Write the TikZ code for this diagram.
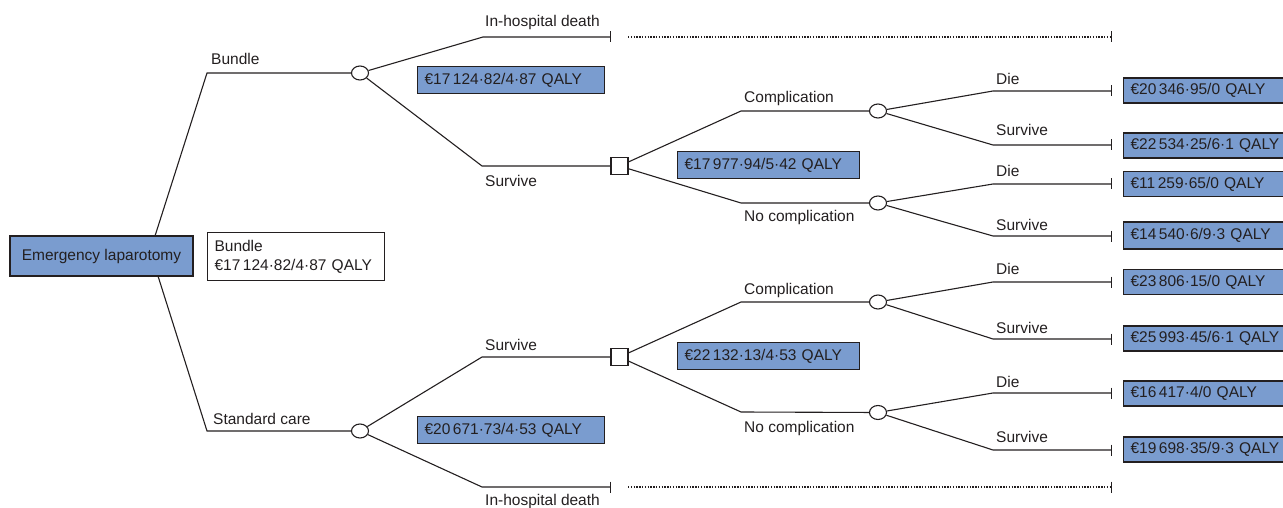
\documentclass[tikz,border=0pt]{standalone}
\usepackage{fontspec}
\setmainfont{Liberation Sans}
\usetikzlibrary{shapes.geometric,arrows.meta}
\definecolor{boxblue}{RGB}{122,156,207}
\definecolor{ink}{RGB}{35,31,32}
\begin{document}
\begin{tikzpicture}[x=1pt,y=-1pt,
  every node/.style={font=\fontsize{15.5}{19}\selectfont, text=ink},
  edge/.style={draw=ink, line width=1.1pt},
  endbar/.style={edge, -{Bar[width=11pt,line width=1.1pt]}},
  dotline/.style={draw=ink, line width=1.2pt, dash pattern=on 1.4pt off 1.4pt, -{Bar[width=11pt,line width=1.1pt]}},
  chance/.style={ellipse, draw=ink, fill=white, line width=1.1pt, minimum width=17, minimum height=14, inner sep=0},
  decision/.style={rectangle, draw=ink, fill=white, line width=1.1pt, minimum size=17, inner sep=0},
  valbox/.style={rectangle, draw=ink, fill=boxblue, line width=1.1pt, inner xsep=7, inner ysep=0, align=left},
  infobox/.style={rectangle, draw=ink, fill=white, line width=1.1pt, inner xsep=7, inner ysep=0, align=left},
  lbl/.style={anchor=base west, inner sep=0},
]
\useasboundingbox (0,0) rectangle (1283,508);

% root
\node[rectangle, draw=ink, fill=boxblue, line width=1.1pt, minimum width=183, minimum height=40, inner sep=0] (root) at (101.5,256) {Emergency laparotomy};
\node[infobox, anchor=north west, text width=163, minimum height=48] (info) at (207,232) {Bundle\\€17\,124·82/4·87 QALY};

\coordinate (r1) at (155,236);
\coordinate (r2) at (158,276);
\coordinate (kB) at (207,73);
\coordinate (kS) at (207,431);
\node[chance] (cB) at (360,73) {};
\node[chance] (cS) at (360,431) {};
\draw[edge] (r1) -- (kB) -- (cB);
\draw[edge] (r2) -- (kS) -- (cS);
\node[lbl] (lB) at (211,65) {Bundle};
\node[lbl] (lS) at (213,424) {Standard care};

% ---------- bundle arm ----------
\coordinate (kD1) at (483,37);
\coordinate (tD1) at (611,37);
\draw[endbar] (cB) -- (kD1) -- (tD1);
\node[lbl] (lD1) at (485,27) {In-hospital death};
\coordinate (d1s) at (628,37);
\coordinate (d1e) at (1112,37);
\draw[dotline] (d1s) -- (d1e);
\node[valbox, anchor=north west, text width=173, minimum height=27] (v1) at (417,66) {€17\,124·82/4·87 QALY};

\coordinate (kSv1) at (482,166);
\node[decision] (sq1) at (619.5,166) {};
\draw[edge] (cB) -- (kSv1) -- (sq1);
\node[lbl] (lSv1) at (485,186) {Survive};

\coordinate (kC1) at (741,111);
\node[chance] (cC1) at (878,111) {};
\draw[edge] (sq1) -- (kC1) -- (cC1);
\node[lbl] (lC1) at (744,103) {Complication};
\coordinate (kN1) at (741,203);
\node[chance] (cN1) at (878,203) {};
\draw[edge] (sq1) -- (kN1) -- (cN1);
\node[lbl] (lN1) at (744,221) {No complication};
\node[valbox, anchor=north west, text width=168, minimum height=27] (v2) at (677,151) {€17\,977·94/5·42 QALY};

% outcomes bundle / complication
\coordinate (ka) at (993,91);  \coordinate (ta) at (1112,91);
\coordinate (kb) at (993,145); \coordinate (tb) at (1112,145);
\draw[endbar] (cC1) -- (ka) -- (ta);
\draw[endbar] (cC1) -- (kb) -- (tb);
\node[lbl] (la) at (996,85) {Die};
\node[lbl] (lb) at (996,136) {Survive};
\coordinate (kc) at (993,184); \coordinate (tc) at (1112,184);
\coordinate (kd) at (993,236); \coordinate (td) at (1112,236);
\draw[endbar] (cN1) -- (kc) -- (tc);
\draw[endbar] (cN1) -- (kd) -- (td);
\node[lbl] (lc) at (996,177) {Die};
\node[lbl] (ld) at (996,230) {Survive};

\node[valbox, anchor=west, text width=160, minimum height=25] (Ta) at (1123,90.5) {€20\,346·95/0 QALY};
\node[valbox, anchor=west, text width=160, minimum height=25] (Tb) at (1123,145.5) {€22\,534·25/6·1 QALY};
\node[valbox, anchor=west, text width=160, minimum height=25] (Tc) at (1123,184) {€11\,259·65/0 QALY};
\node[valbox, anchor=west, text width=160, minimum height=27] (Td) at (1123,235.5) {€14\,540·6/9·3 QALY};

% ---------- standard care arm ----------
\coordinate (kSv2) at (482,357);
\node[decision] (sq2) at (619.5,357) {};
\draw[edge] (cS) -- (kSv2) -- (sq2);
\node[lbl] (lSv2) at (485,350) {Survive};

\coordinate (kD2) at (482,487);
\coordinate (tD2) at (611,487);
\draw[endbar] (cS) -- (kD2) -- (tD2);
\node[lbl] (lD2) at (485,505) {In-hospital death};
\coordinate (d2s) at (628,487);
\coordinate (d2e) at (1112,487);
\draw[dotline] (d2s) -- (d2e);
\node[valbox, anchor=north west, text width=173, minimum height=27] (v3) at (417,416) {€20\,671·73/4·53 QALY};

\coordinate (kC2) at (741,302);
\node[chance] (cC2) at (878,302) {};
\draw[edge] (sq2) -- (kC2) -- (cC2);
\node[lbl] (lC2) at (744,294) {Complication};
\coordinate (kN2) at (741,412);
\node[chance] (cN2) at (878,412.5) {};
\draw[edge] (sq2) -- (kN2) -- (cN2);
\node[lbl] (lN2) at (744,432) {No complication};
\node[valbox, anchor=north west, text width=168, minimum height=27] (v4) at (677,342) {€22\,132·13/4·53 QALY};

\coordinate (ke) at (993,282); \coordinate (te) at (1112,282);
\coordinate (kf) at (993,339); \coordinate (tf) at (1112,339);
\draw[endbar] (cC2) -- (ke) -- (te);
\draw[endbar] (cC2) -- (kf) -- (tf);
\node[lbl] (le) at (996,274) {Die};
\node[lbl] (lf) at (996,333) {Survive};
\coordinate (kg) at (993,393); \coordinate (tg) at (1112,393);
\coordinate (kh) at (993,450); \coordinate (th) at (1112,450);
\draw[endbar] (cN2) -- (kg) -- (tg);
\draw[endbar] (cN2) -- (kh) -- (th);
\node[lbl] (lg) at (996,387) {Die};
\node[lbl] (lh) at (996,442) {Survive};

\node[valbox, anchor=west, text width=160, minimum height=25] (Te) at (1123,282) {€23\,806·15/0 QALY};
\node[valbox, anchor=west, text width=160, minimum height=25] (Tf) at (1123,338.5) {€25\,993·45/6·1 QALY};
\node[valbox, anchor=west, text width=160, minimum height=25] (Tg) at (1123,393.5) {€16\,417·4/0 QALY};
\node[valbox, anchor=west, text width=160, minimum height=25] (Th) at (1123,449.5) {€19\,698·35/9·3 QALY};
\end{tikzpicture}
\end{document}
